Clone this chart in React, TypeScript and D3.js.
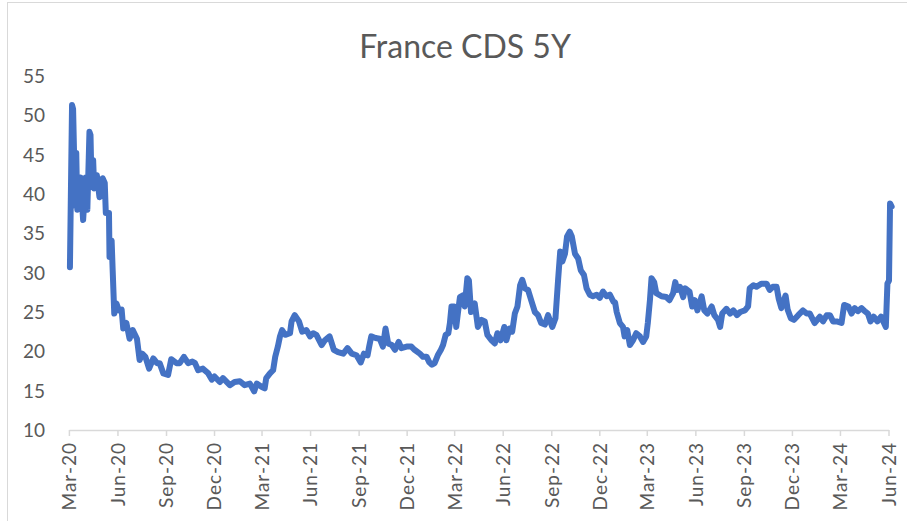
import React from "react";
import * as d3 from "d3";

const title = "France CDS 5Y";
const yTicks = [10, 15, 20, 25, 30, 35, 40, 45, 50, 55];

const dates = [
  "2020-03-02","2020-03-06","2020-03-08","2020-03-12","2020-03-14","2020-03-16","2020-03-22","2020-03-27","2020-04-01","2020-04-04",
  "2020-04-08","2020-04-10","2020-04-12","2020-04-15","2020-04-17","2020-04-22","2020-04-27","2020-05-03","2020-05-07","2020-05-09",
  "2020-05-15","2020-05-16","2020-05-20","2020-05-22","2020-05-25","2020-05-29","2020-06-03","2020-06-08","2020-06-11","2020-06-17",
  "2020-06-23","2020-06-29","2020-07-07","2020-07-12","2020-07-17","2020-07-23","2020-07-30","2020-08-07","2020-08-14","2020-08-19",
  "2020-08-26","2020-09-04","2020-09-10","2020-09-20","2020-09-26","2020-10-04","2020-10-12","2020-10-20","2020-10-25","2020-10-31",
  "2020-11-09","2020-11-19","2020-11-26","2020-12-01","2020-12-11","2020-12-17","2020-12-30","2021-01-08","2021-01-18","2021-01-27",
  "2021-02-06","2021-02-14","2021-02-19","2021-02-28","2021-03-06","2021-03-09","2021-03-16","2021-03-22","2021-03-26","2021-03-31",
  "2021-04-04","2021-04-08","2021-04-14","2021-04-23","2021-04-26","2021-05-02","2021-05-10","2021-05-16","2021-05-24","2021-05-31",
  "2021-06-06","2021-06-12","2021-06-22","2021-06-28","2021-07-07","2021-07-15","2021-07-23","2021-08-02","2021-08-10","2021-08-18",
  "2021-08-27","2021-09-04","2021-09-10","2021-09-17","2021-09-20","2021-09-24","2021-10-02","2021-10-10","2021-10-16","2021-10-21",
  "2021-10-26","2021-11-02","2021-11-08","2021-11-15","2021-11-20","2021-11-30","2021-12-09","2021-12-15","2021-12-25","2021-12-31",
  "2022-01-07","2022-01-12","2022-01-17","2022-01-22","2022-01-28","2022-02-03","2022-02-07","2022-02-12","2022-02-17","2022-02-20",
  "2022-02-23","2022-02-28","2022-03-04","2022-03-07","2022-03-11","2022-03-16","2022-03-20","2022-03-25","2022-03-28","2022-04-01",
  "2022-04-05","2022-04-08","2022-04-14","2022-04-21","2022-04-27","2022-05-02","2022-05-10","2022-05-16","2022-05-21","2022-05-27",
  "2022-06-03","2022-06-07","2022-06-13","2022-06-18","2022-06-23","2022-06-28","2022-07-03","2022-07-07","2022-07-12","2022-07-18",
  "2022-07-25","2022-07-31","2022-08-06","2022-08-12","2022-08-19","2022-08-25","2022-09-02","2022-09-08","2022-09-13","2022-09-17",
  "2022-09-21","2022-09-26","2022-09-30","2022-10-05","2022-10-09","2022-10-15","2022-10-21","2022-10-26","2022-11-01","2022-11-06",
  "2022-11-12","2022-11-18","2022-11-25","2022-12-01","2022-12-07","2022-12-14","2022-12-20","2022-12-27","2022-12-30","2023-01-02",
  "2023-01-08","2023-01-14","2023-01-17","2023-01-22","2023-01-27","2023-02-02","2023-02-08","2023-02-15","2023-02-21","2023-02-27",
  "2023-03-02","2023-03-06","2023-03-09","2023-03-14","2023-03-18","2023-03-28","2023-04-06","2023-04-12","2023-04-19","2023-04-23",
  "2023-04-27","2023-05-02","2023-05-08","2023-05-12","2023-05-20","2023-05-25","2023-05-30","2023-06-04","2023-06-12","2023-06-17",
  "2023-06-23","2023-07-01","2023-07-06","2023-07-13","2023-07-17","2023-07-21","2023-07-29","2023-08-05","2023-08-11","2023-08-18",
  "2023-08-24","2023-09-02","2023-09-08","2023-09-11","2023-09-18","2023-09-24","2023-10-03","2023-10-13","2023-10-19","2023-10-25",
  "2023-11-01","2023-11-05","2023-11-10","2023-11-18","2023-11-22","2023-11-28","2023-12-04","2023-12-12","2023-12-21","2023-12-28",
  "2024-01-03","2024-01-12","2024-01-22","2024-01-28","2024-02-04","2024-02-10","2024-02-16","2024-02-23","2024-03-03","2024-03-08",
  "2024-03-16","2024-03-22","2024-03-28","2024-04-03","2024-04-10","2024-04-16","2024-04-22","2024-04-27","2024-05-03","2024-05-10",
  "2024-05-17","2024-05-26","2024-05-29","2024-06-01","2024-06-03","2024-06-06",
];

const cds5y = [
  30.7,51.3,50.8,38.5,45.2,38.0,42.1,36.7,42.1,38.0,
  47.9,47.5,40.9,44.3,40.7,42.4,39.6,42.0,41.4,37.6,
  37.6,32.0,34.1,30.3,24.8,26.1,25.2,25.3,22.9,23.6,
  21.6,22.7,21.6,18.9,19.7,19.3,17.8,19.1,18.5,18.5,
  17.2,17.0,19.0,18.5,18.5,19.3,18.5,18.7,18.5,17.6,
  17.8,17.2,16.4,16.8,16.1,16.6,15.7,16.1,16.2,15.7,
  15.9,14.9,15.9,15.5,15.3,16.6,17.2,17.6,19.3,20.6,
  21.9,22.7,22.1,22.3,23.8,24.6,23.8,22.5,22.7,21.9,
  22.3,22.1,20.8,21.4,21.9,20.2,19.9,19.7,20.4,19.7,
  19.5,18.6,19.7,19.5,20.6,21.9,21.7,21.6,20.6,22.9,
  21.0,20.8,20.2,21.2,20.4,20.6,20.6,20.2,19.7,19.3,
  19.3,18.6,18.3,18.5,19.5,20.2,20.8,22.1,22.3,23.6,
  25.7,25.7,23.1,24.8,26.9,27.1,25.7,29.3,29.0,25.0,
  25.7,26.1,23.1,24.0,23.8,22.1,21.4,21.0,22.3,21.4,
  23.1,21.4,22.9,22.5,24.8,25.7,28.4,29.1,28.0,27.8,
  26.3,25.0,24.6,23.6,23.4,24.6,23.1,24.2,29.1,32.7,
  31.4,32.4,34.6,35.2,34.6,32.4,31.8,30.3,29.7,28.0,
  27.2,27.0,27.2,26.8,27.6,27.0,27.2,26.3,26.2,25.0,
  23.6,23.1,21.9,22.7,20.8,21.4,22.3,21.9,21.2,21.9,
  23.6,26.5,29.3,28.8,27.4,27.0,26.9,26.5,27.4,28.8,
  27.8,28.2,26.9,28.0,27.6,25.7,26.5,25.2,27.0,25.2,
  24.8,25.7,24.6,24.0,23.1,24.8,25.4,24.8,25.2,24.6,
  25.0,25.2,25.7,28.0,28.4,28.2,28.6,28.6,27.8,28.2,
  28.2,26.7,25.5,27.1,25.3,24.2,24.0,24.6,25.2,24.8,
  24.8,23.6,24.4,23.8,24.6,24.6,23.8,23.8,23.6,25.9,
  25.7,24.8,25.5,25.1,25.5,25.1,24.8,23.8,24.4,23.8,
  24.4,23.1,28.6,29.0,38.8,38.4,
];

const W = 907;
const H = 521;
const FONT = "Lato, 'Open Sans', sans-serif";
const TEXT = "#595959";

export default function App() {
  const parse = d3.timeParse("%Y-%m-%d");
  const data = dates.map((d, i) => ({ date: parse(d) as Date, value: cds5y[i] }));

  const start = new Date(2020, 2, 1);
  const end = new Date(2024, 5, 1);
  const x = d3.scaleTime().domain([start, end]).range([69.4, 889]);
  const y = d3.scaleLinear().domain([10, 55]).range([430, 76]);

  const xTicks = d3.timeMonth.range(start, new Date(2024, 5, 2), 3);
  const fmt = d3.timeFormat("%b-%y");

  const line = d3
    .line<{ date: Date; value: number }>()
    .x((d) => x(d.date))
    .y((d) => y(d.value));

  return (
    <svg
      width={W}
      height={H}
      style={{ position: "absolute", left: 0, top: 0, background: "#fff" }}
    >
      <rect x={7.5} y={2.5} width={W - 4} height={H} fill="#fff" stroke="#d9d9d9" strokeWidth={1} />
      <text x={465} y={58} textAnchor="middle" fontFamily={FONT} fontSize={32} fill={TEXT}>
        {title}
      </text>
      {yTicks.map((t) => (
        <text
          key={t}
          x={45}
          y={y(t)}
          dy="0.36em"
          textAnchor="end"
          fontFamily={FONT}
          fontSize={19}
          fill={TEXT}
        >
          {t}
        </text>
      ))}
      <line x1={x.range()[0]} x2={x.range()[1]} y1={430.5} y2={430.5} stroke="#d9d9d9" strokeWidth={1.5} />
      {xTicks.map((t) => (
        <g key={+t} transform={`translate(${x(t)},0)`}>
          <line y1={430} y2={436} stroke="#d9d9d9" strokeWidth={1.5} />
          <text
            transform="translate(0,442) rotate(-90)"
            dy="0.36em"
            textAnchor="end"
            fontFamily={FONT}
            fontSize={19}
            letterSpacing={1}
            fill={TEXT}
          >
            {fmt(t)}
          </text>
        </g>
      ))}
      <path
        d={line(data) || ""}
        fill="none"
        stroke="#4472C4"
        strokeWidth={6}
        strokeLinejoin="round"
        strokeLinecap="round"
      />
    </svg>
  );
}
